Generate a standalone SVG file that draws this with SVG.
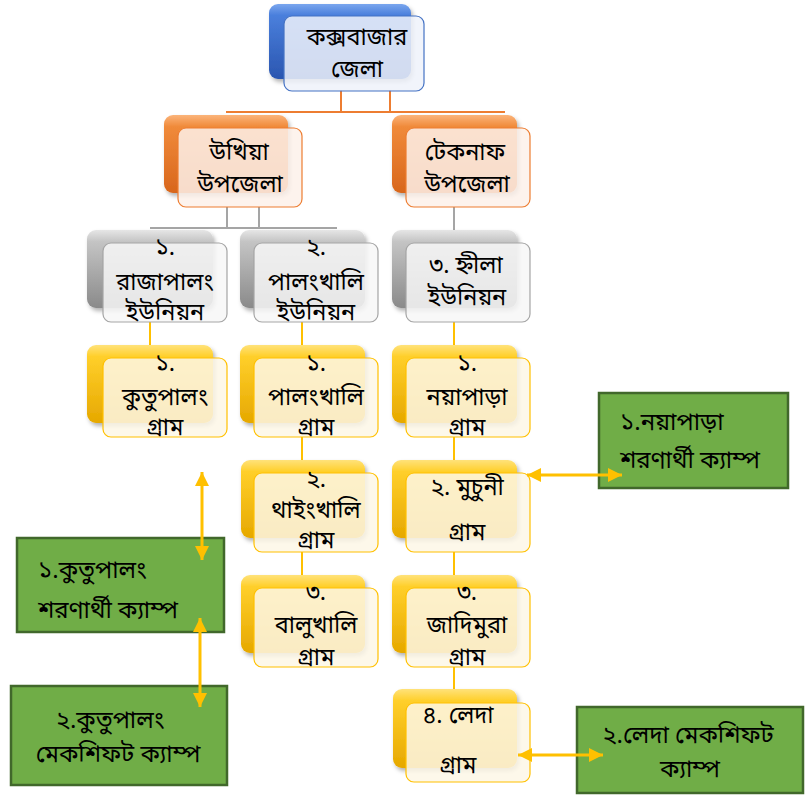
<svg xmlns="http://www.w3.org/2000/svg" width="805" height="795" viewBox="0 0 805 795">
<defs>
<linearGradient id="gBlue" x1="0" y1="0" x2="0" y2="1"><stop offset="0" stop-color="#7aa6ee"/><stop offset="0.15" stop-color="#4a7fdc"/><stop offset="1" stop-color="#2a56b0"/></linearGradient>
<linearGradient id="gOrange" x1="0" y1="0" x2="0" y2="1"><stop offset="0" stop-color="#fbb47a"/><stop offset="0.15" stop-color="#f08a3a"/><stop offset="1" stop-color="#d8661c"/></linearGradient>
<linearGradient id="gGray" x1="0" y1="0" x2="0" y2="1"><stop offset="0" stop-color="#e6e6e6"/><stop offset="0.15" stop-color="#c4c4c4"/><stop offset="1" stop-color="#8a8a8a"/></linearGradient>
<linearGradient id="gYellow" x1="0" y1="0" x2="0" y2="1"><stop offset="0" stop-color="#ffe27a"/><stop offset="0.15" stop-color="#ffcf2a"/><stop offset="1" stop-color="#e6a800"/></linearGradient>
<filter id="sh" x="-10%" y="-10%" width="130%" height="130%"><feDropShadow dx="2" dy="3" stdDeviation="2" flood-color="#000" flood-opacity="0.3"/></filter>
<marker id="ae" markerUnits="userSpaceOnUse" viewBox="0 0 14 14" refX="14" refY="7" markerWidth="14" markerHeight="14" orient="auto"><path d="M0,0 L14,7 L0,14 z" fill="#FFC000"/></marker>
<marker id="as" markerUnits="userSpaceOnUse" viewBox="0 0 14 14" refX="0" refY="7" markerWidth="14" markerHeight="14" orient="auto"><path d="M14,0 L0,7 L14,14 z" fill="#FFC000"/></marker>
<style>
text{font-family:"Noto Sans Bengali","Noto Sans",sans-serif;font-size:23.5px;fill:#000;text-anchor:middle}
.l{text-anchor:start}
.bb{stroke:none;filter:url(#sh)}
.fb{fill-opacity:0.85;stroke-width:1.2}
.fblue{stroke:#4472C4;fill:#eef2fa}
.forange{stroke:#ED7D31;fill:#fdf1ea}
.fgray{stroke:#a5a5a5;fill:#f7f7f7}
.fyel{stroke:#FFC000;fill:#fdf7e6}
.cO{stroke:#ED7D31;stroke-width:2;fill:none}
.cG{stroke:#a5a5a5;stroke-width:2;fill:none}
.cY{stroke:#FFC000;stroke-width:2;fill:none}
.arr{stroke:#FFC000;stroke-width:3;fill:none;marker-start:url(#as);marker-end:url(#ae)}
.green{fill:#70AD47;stroke:#41682b;stroke-width:2.5}
.g{font-size:24px}
</style>
</defs>
<g id="connectors">
<path class="cO" d="M341,90 V112 M390,90 V112 M226,112 H505"/>
<path class="cG" d="M227,207 V228 M259,207 V228 M150,228 H337 M454,207 V230"/>
<path class="cY" d="M150,322 V345 M302,322 V345 M454,322 V345 M302,437 V460 M454,437 V460 M302,552 V575 M454,552 V575 M454,667 V689"/>
</g>
<g id="n-cox">
<rect class="bb" x="269" y="4" width="142" height="75" rx="9" fill="url(#gBlue)"/>
<rect class="fb fblue" x="284" y="16" width="140" height="75" rx="8"/>
<text x="357" y="45">কক্সবাজার</text><text x="357" y="77">জেলা</text>
</g>
<g id="n-ukhia">
<rect class="bb" x="164" y="115" width="124" height="78" rx="9" fill="url(#gOrange)"/>
<rect class="fb forange" x="178" y="128" width="124" height="79" rx="8"/>
<text x="239" y="160">উখিয়া</text><text x="240" y="192">উপজেলা</text>
</g>
<g id="n-teknaf">
<rect class="bb" x="392" y="115" width="125" height="78" rx="9" fill="url(#gOrange)"/>
<rect class="fb forange" x="406" y="128" width="124" height="79" rx="8"/>
<text x="465" y="160">টেকনাফ</text><text x="467" y="192">উপজেলা</text>
</g>
<g id="n-rajapalong">
<rect class="bb" x="87" y="230" width="126" height="78" rx="9" fill="url(#gGray)"/>
<rect class="fb fgray" x="103" y="243" width="124" height="79" rx="8"/>
<text x="165" y="255">১.</text><text x="165" y="290">রাজাপালং</text><text x="165" y="320">ইউনিয়ন</text>
</g>
<g id="n-palongkhali">
<rect class="bb" x="240" y="230" width="125" height="78" rx="9" fill="url(#gGray)"/>
<rect class="fb fgray" x="254" y="243" width="124" height="79" rx="8"/>
<text x="316" y="255">২.</text><text x="316" y="290">পালংখালি</text><text x="316" y="320">ইউনিয়ন</text>
</g>
<g id="n-hnila">
<rect class="bb" x="392" y="230" width="125" height="78" rx="9" fill="url(#gGray)"/>
<rect class="fb fgray" x="406" y="243" width="124" height="79" rx="8"/>
<text x="466" y="273">৩. হ্নীলা</text><text x="467" y="305">ইউনিয়ন</text>
</g>
<g id="n-kutupalong">
<rect class="bb" x="87" y="345" width="126" height="78" rx="9" fill="url(#gYellow)"/>
<rect class="fb fyel" x="103" y="358" width="124" height="79" rx="8"/>
<text x="165" y="371">১.</text><text x="165" y="405">কুতুপালং</text><text x="165" y="435">গ্রাম</text>
</g>
<g id="n-palongkhali-g">
<rect class="bb" x="240" y="345" width="125" height="78" rx="9" fill="url(#gYellow)"/>
<rect class="fb fyel" x="254" y="358" width="124" height="79" rx="8"/>
<text x="316" y="371">১.</text><text x="316" y="405">পালংখালি</text><text x="316" y="435">গ্রাম</text>
</g>
<g id="n-noyapara">
<rect class="bb" x="392" y="345" width="125" height="78" rx="9" fill="url(#gYellow)"/>
<rect class="fb fyel" x="406" y="358" width="124" height="79" rx="8"/>
<text x="467" y="371">১.</text><text x="467" y="405">নয়াপাড়া</text><text x="467" y="435">গ্রাম</text>
</g>
<g id="n-thaingkhali">
<rect class="bb" x="241" y="460" width="124" height="78" rx="9" fill="url(#gYellow)"/>
<rect class="fb fyel" x="254" y="473" width="124" height="79" rx="8"/>
<text x="316" y="487">২.</text><text x="316" y="518">থাইংখালি</text><text x="316" y="548">গ্রাম</text>
</g>
<g id="n-muchuni">
<rect class="bb" x="392" y="460" width="125" height="78" rx="9" fill="url(#gYellow)"/>
<rect class="fb fyel" x="406" y="473" width="124" height="79" rx="8"/>
<text x="467" y="495">২. মুচুনী</text><text x="467" y="540">গ্রাম</text>
</g>
<g id="n-balukhali">
<rect class="bb" x="241" y="575" width="124" height="78" rx="9" fill="url(#gYellow)"/>
<rect class="fb fyel" x="254" y="588" width="124" height="79" rx="8"/>
<text x="316" y="600">৩.</text><text x="316" y="633">বালুখালি</text><text x="316" y="665">গ্রাম</text>
</g>
<g id="n-jadimura">
<rect class="bb" x="392" y="575" width="125" height="78" rx="9" fill="url(#gYellow)"/>
<rect class="fb fyel" x="406" y="588" width="124" height="79" rx="8"/>
<text x="467" y="600">৩.</text><text x="467" y="633">জাদিমুরা</text><text x="467" y="665">গ্রাম</text>
</g>
<g id="n-leda">
<rect class="bb" x="393" y="689" width="124" height="79" rx="9" fill="url(#gYellow)"/>
<rect class="fb fyel" x="406" y="703" width="124" height="79" rx="8"/>
<text x="458" y="723">৪. লেদা</text><text x="458" y="773">গ্রাম</text>
</g>
<g id="c-noyapara">
<rect class="green" x="599" y="393" width="189" height="95"/>
<text class="l g" x="620" y="430">১.নয়াপাড়া</text><text class="l g" x="620" y="468">শরণার্থী ক্যাম্প</text>
</g>
<g id="c-kutupalong">
<rect class="green" x="17" y="538" width="207" height="94"/>
<text class="l g" x="38" y="578">১.কুতুপালং</text><text class="l g" x="38" y="618">শরণার্থী ক্যাম্প</text>
</g>
<g id="c-kutupalong-ms">
<rect class="green" x="11" y="686" width="216" height="99"/>
<text class="g" x="110" y="728">২.কুতুপালং</text><text class="g" x="118" y="762">মেকশিফট ক্যাম্প</text>
</g>
<g id="c-leda">
<rect class="green" x="577" y="707" width="226" height="86"/>
<text class="g" x="688" y="743">২.লেদা মেকশিফট</text><text class="g" x="690" y="777">ক্যাম্প</text>
</g>
<g id="arrows">
<path class="arr" d="M202,472 V560"/>
<path class="arr" d="M200,618 V707"/>
<path class="arr" d="M527,475 H622"/>
<path class="arr" d="M518,755 H603"/>
</g>
</svg>
